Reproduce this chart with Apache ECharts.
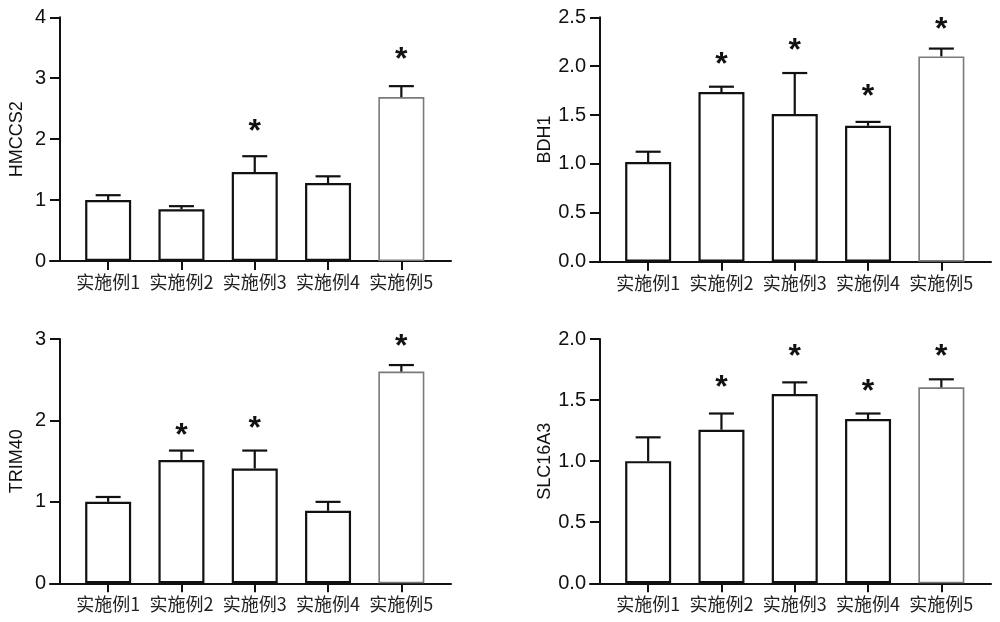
<!DOCTYPE html>
<html style="height: 100%">
<head>
<meta charset="utf-8">
</head>
<body style="height: 100%; margin: 0; background: #fff">
<div id="container" style="width: 1000px; height: 622px"></div>
<script src="https://cdn.jsdelivr.net/npm/echarts@6/dist/echarts.min.js"></script>
<script type="text/javascript">
var categories = ['实施例1', '实施例2', '实施例3', '实施例4', '实施例5'];

// HMCCS2 (top left)
var hmccs2Mean = [1.0, 0.85, 1.46, 1.28, 2.69];
var hmccs2Sd = [0.08, 0.05, 0.26, 0.11, 0.18];
var hmccs2Star = [null, null, 2.22, null, 3.40];

// BDH1 (top right)
var bdh1Mean = [1.02, 1.735, 1.51, 1.39, 2.10];
var bdh1Sd = [0.105, 0.055, 0.42, 0.04, 0.08];
var bdh1Star = [null, 2.07, 2.22, 1.74, 2.43];

// TRIM40 (bottom left)
var trim40Mean = [1.0, 1.515, 1.41, 0.89, 2.60];
var trim40Sd = [0.06, 0.115, 0.22, 0.11, 0.08];
var trim40Star = [null, 1.88, 1.97, null, 2.97];

// SLC16A3 (bottom right)
var slcMean = [1.0, 1.257, 1.55, 1.345, 1.604];
var slcSd = [0.195, 0.133, 0.095, 0.045, 0.066];
var slcStar = [null, 1.65, 1.90, 1.61, 1.90];

var panels = [
    {name: 'HMCCS2', mean: hmccs2Mean, sd: hmccs2Sd, star: hmccs2Star, max: 4, interval: 1, dec: 0,
     left: 71.5, top: 17.3, height: 243.7},
    {name: 'BDH1', mean: bdh1Mean, sd: bdh1Sd, star: bdh1Star, max: 2.5, interval: 0.5, dec: 1,
     left: 611.5, top: 17.3, height: 244.4},
    {name: 'TRIM40', mean: trim40Mean, sd: trim40Sd, star: trim40Star, max: 3, interval: 1, dec: 0,
     left: 71.5, top: 339, height: 244.3},
    {name: 'SLC16A3', mean: slcMean, sd: slcSd, star: slcStar, max: 2, interval: 0.5, dec: 1,
     left: 611.5, top: 339, height: 244.3}
];

var BAND_W = 366.5;
var numFont = 'Liberation Sans, Arial, sans-serif';

var dom = document.getElementById('container');
var myChart = echarts.init(dom);

var grid = [], xAxis = [], yAxis = [], series = [];

panels.forEach(function (p, k) {
    var g = grid.length;
    // data grid
    grid.push({left: p.left, top: p.top, width: BAND_W, height: p.height});
    // grid that only carries the long x axis line (Prism style)
    grid.push({left: p.left - 21.5, top: p.top, width: BAND_W + 34.5, height: p.height});

    xAxis.push({
        gridIndex: g,
        type: 'category',
        data: categories,
        boundaryGap: true,
        axisLine: {show: false},
        axisTick: {show: true, alignWithLabel: true, interval: 0, length: 9, lineStyle: {color: '#111', width: 2}},
        axisLabel: {interval: 0, margin: 12, color: '#222', fontSize: 18, fontFamily: 'Noto Sans CJK SC'},
        splitLine: {show: false}
    });
    xAxis.push({
        gridIndex: g + 1,
        type: 'value', min: 0, max: 1,
        axisLine: {show: true, onZero: false, lineStyle: {color: '#111', width: 2}},
        axisTick: {show: false}, axisLabel: {show: false}, splitLine: {show: false}
    });

    yAxis.push({
        gridIndex: g,
        type: 'value',
        min: 0, max: p.max, interval: p.interval,
        offset: 11.5,
        name: p.name,
        nameLocation: 'middle',
        nameRotate: 90,
        nameGap: 34,
        nameTextStyle: {color: '#111', fontSize: 18, fontFamily: numFont},
        axisLine: {show: true, lineStyle: {color: '#111', width: 2}},
        axisTick: {show: true, length: 10, lineStyle: {color: '#111', width: 2}},
        axisLabel: {
            margin: 14, color: '#111', fontSize: 20, fontFamily: numFont,
            formatter: function (v) { return v.toFixed(p.dec); }
        },
        splitLine: {show: false}
    });
    yAxis.push({gridIndex: g + 1, type: 'value', min: 0, max: 1, show: false});

    var xi = xAxis.length - 2, yi = yAxis.length - 2;

    series.push({
        type: 'bar',
        xAxisIndex: xi, yAxisIndex: yi,
        barWidth: 46,
        data: p.mean.map(function (v, i) {
            return {
                value: v,
                itemStyle: {
                    color: '#fff',
                    borderColor: i === 4 ? '#7a7a7a' : '#111',
                    borderWidth: i === 4 ? 1.6 : 2.2
                }
            };
        }),
        silent: true,
        z: 2
    });

    series.push({
        type: 'custom',
        xAxisIndex: xi, yAxisIndex: yi,
        data: p.mean.map(function (v, i) { return [i, v, v + p.sd[i]]; }),
        renderItem: function (params, api) {
            var lo = api.coord([api.value(0), api.value(1)]);
            var hi = api.coord([api.value(0), api.value(2)]);
            var st = {stroke: '#111', lineWidth: 2.2};
            return {
                type: 'group',
                children: [
                    {type: 'line', shape: {x1: lo[0], y1: lo[1], x2: hi[0], y2: hi[1]}, style: st},
                    {type: 'line', shape: {x1: hi[0] - 12.5, y1: hi[1], x2: hi[0] + 12.5, y2: hi[1]}, style: st}
                ]
            };
        },
        z: 3
    });

    series.push({
        type: 'custom',
        xAxisIndex: xi, yAxisIndex: yi,
        data: p.star.map(function (v, i) { return [i, v]; }).filter(function (d) { return d[1] != null; }),
        renderItem: function (params, api) {
            var c = api.coord([api.value(0), api.value(1)]);
            return {
                type: 'text',
                style: {
                    text: '*', x: c[0], y: c[1] + 6,
                    font: 'bold 32px ' + numFont,
                    fill: '#111', align: 'center', verticalAlign: 'middle'
                }
            };
        },
        z: 4
    });
});

var option = {
    backgroundColor: '#fff',
    animation: false,
    grid: grid,
    xAxis: xAxis,
    yAxis: yAxis,
    series: series
};

myChart.setOption(option, true);
</script>
</body>
</html>
